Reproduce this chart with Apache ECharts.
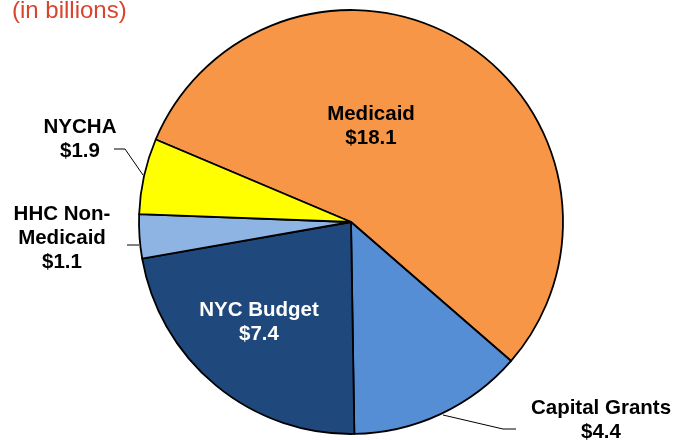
<!DOCTYPE html>
<html>
<head>
<meta charset="utf-8">
<script src="https://cdn.jsdelivr.net/npm/echarts@6/dist/echarts.min.js"></script>
<style>
  html, body { margin: 0; padding: 0; background: #fff; }
  #chart { width: 688px; height: 440px; }
</style>
</head>
<body>
<div id="chart"></div>
<script>
// slice names and values (in billions)
var names = ['Medicaid', 'Capital Grants', 'NYC Budget', 'HHC Non-\nMedicaid', 'NYCHA'];
var values = [18.1, 4.4, 7.4, 1.1, 1.9];
var colors = ['#F79646', '#558ED5', '#1F497D', '#8DB4E2', '#FFFF00'];
var labelColors = ['#000', '#000', '#fff', '#000', '#000'];
var insideLabel = [true, false, true, false, false];

// where each label sits, and its leader line (layout only)
var labelPos = [[371, 126], [601, 420], [259, 322], [62, 238], [80, 139]];
var linePts = [
  null,
  [[443, 415], [503, 429], [516, 429]],
  null,
  [[139, 245], [133, 245], [127, 245]],
  [[143, 175], [125, 149], [114, 149]]
];

var chart = echarts.init(document.getElementById('chart'));

var pieData = names.map(function (n, i) {
  return {
    name: n,
    value: values[i],
    itemStyle: { color: colors[i] },
    label: {
      position: insideLabel[i] ? 'inside' : 'outside',
      color: labelColors[i]
    },
    labelLine: { show: !insideLabel[i] }
  };
});

chart.setOption({
  animation: false,
  title: {
    text: '(in billions)',
    left: 12,
    top: -1,
    padding: 0,
    textStyle: {
      color: '#D9442E',
      fontSize: 24,
      fontWeight: 'normal',
      fontFamily: 'Liberation Sans, Arial, sans-serif'
    }
  },
  series: [{
    type: 'pie',
    center: [351, 222],
    radius: 212,
    startAngle: 157.1,
    clockwise: true,
    itemStyle: { borderColor: '#000', borderWidth: 1.8 },
    emphasis: { disabled: true },
    label: {
      show: true,
      formatter: function (p) { return p.name + '\n$' + p.value; },
      fontFamily: 'Liberation Sans, Arial, sans-serif',
      fontWeight: 'bold',
      fontSize: 20.5,
      lineHeight: 24,
      align: 'center',
      overflow: 'none'
    },
    labelLine: { lineStyle: { color: '#000', width: 1 } },
    labelLayout: function (params) {
      var i = params.dataIndex;
      var out = {
        x: labelPos[i][0],
        y: labelPos[i][1],
        align: 'center',
        verticalAlign: 'middle'
      };
      if (linePts[i]) out.labelLinePoints = linePts[i];
      return out;
    },
    data: pieData
  }]
});
</script>
</body>
</html>
